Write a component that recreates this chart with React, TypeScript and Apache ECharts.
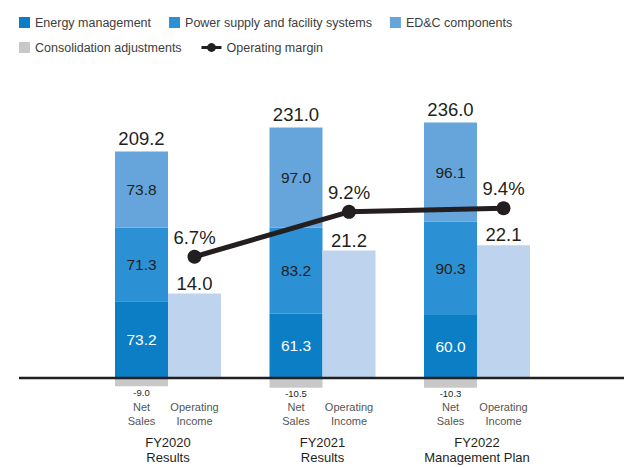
import React, { useEffect, useRef } from "react";
import * as echarts from "echarts";

const fiscalYears = ["FY2020", "FY2021", "FY2022"];
const periodLabels = ["Results", "Results", "Management Plan"];
const energyManagement = [73.2, 61.3, 60.0];
const powerSupply = [71.3, 83.2, 90.3];
const edcComponents = [73.8, 97.0, 96.1];
const consolidation = [-9.0, -10.5, -10.3];
const netSalesTotals = [209.2, 231.0, 236.0];
const operatingIncome = [14.0, 21.2, 22.1];
const operatingMargin = [6.7, 9.2, 9.4];

const SANS = "'Liberation Sans', Arial, sans-serif";
const DARK = "#231f20";

const GRID_LEFT = 90.75;
const GRID_WIDTH = 463.5;
const GRID_TOP = 67;
const GRID_HEIGHT = 310;
const BAR_WIDTH = 53;

export default function App() {
  const ref = useRef<HTMLDivElement>(null);

  useEffect(() => {
    if (!ref.current) return;
    const chart = echarts.init(ref.current, undefined, { renderer: "svg" });
    const catWidth = GRID_WIDTH / fiscalYears.length;
    const oiOffset = BAR_WIDTH / 2 / catWidth;
    const marginData = operatingMargin.map((v, i) => [i + 0.5 + oiOffset, v]);

    const legendText = { fontFamily: SANS, fontSize: 12.5, color: "#3d3d3d" };

    const option: any = {
      animation: false,
      backgroundColor: "#ffffff",
      legend: [
        {
          left: 14,
          top: 11,
          itemWidth: 11,
          itemHeight: 11,
          itemGap: 18,
          icon: "rect",
          textStyle: legendText,
          data: ["Energy management", "Power supply and facility systems", "ED&C components"],
        },
        {
          left: 14,
          top: 36,
          itemWidth: 11,
          itemHeight: 11,
          icon: "rect",
          textStyle: legendText,
          data: ["Consolidation adjustments"],
        },
        {
          left: 195,
          top: 36,
          itemWidth: 20,
          itemHeight: 11,
          textStyle: legendText,
          lineStyle: { width: 3 },
          data: ["Operating margin"],
        },
      ],
      grid: { left: GRID_LEFT, width: GRID_WIDTH, top: GRID_TOP, height: GRID_HEIGHT },
      xAxis: [
        {
          type: "category",
          data: fiscalYears,
          axisLine: { show: false },
          axisTick: { show: false },
          axisLabel: {
            margin: 23,
            interval: 0,
            formatter: (_v: string, i: number) =>
              `{a|Net}{b|Operating}\n{a|Sales}{b|Income}\n{s| }\n{g|${fiscalYears[i]}}\n{g|${periodLabels[i]}}`,
            rich: {
              a: { width: BAR_WIDTH, align: "center", fontFamily: SANS, fontSize: 11, lineHeight: 14, color: "#555555" },
              b: { width: BAR_WIDTH, align: "center", fontFamily: SANS, fontSize: 11, lineHeight: 14, color: "#555555" },
              s: { fontSize: 4, lineHeight: 6.5 },
              g: { width: 130, align: "center", fontFamily: SANS, fontSize: 13, lineHeight: 15, color: DARK },
            },
          },
        },
        { type: "value", min: 0, max: fiscalYears.length, show: false },
      ],
      yAxis: [
        { type: "value", min: 0, max: 300, show: false, splitLine: { show: false } },
        { type: "value", min: 0, max: 52, show: false, splitLine: { show: false } },
        { type: "value", min: 0, max: GRID_HEIGHT / 17.95, show: false, splitLine: { show: false } },
      ],
      series: [
        {
          name: "Energy management",
          type: "bar",
          stack: "ns",
          barWidth: BAR_WIDTH,
          barGap: "0%",
          data: energyManagement,
          itemStyle: { color: "#0b7ec5" },
          label: { show: true, position: "inside", color: "#ffffff", fontFamily: SANS, fontSize: 15.5, formatter: (p: any) => p.value.toFixed(1) },
        },
        {
          name: "Power supply and facility systems",
          type: "bar",
          stack: "ns",
          barWidth: BAR_WIDTH,
          data: powerSupply,
          itemStyle: { color: "#2c90d4" },
          label: { show: true, position: "inside", color: DARK, fontFamily: SANS, fontSize: 15.5, formatter: (p: any) => p.value.toFixed(1) },
        },
        {
          name: "ED&C components",
          type: "bar",
          stack: "ns",
          barWidth: BAR_WIDTH,
          data: edcComponents,
          itemStyle: { color: "#65a5dc" },
          label: { show: true, position: "inside", color: DARK, fontFamily: SANS, fontSize: 15.5, formatter: (p: any) => p.value.toFixed(1) },
        },
        {
          name: "Net sales total",
          type: "bar",
          stack: "ns",
          barWidth: BAR_WIDTH,
          data: netSalesTotals.map(() => 0),
          itemStyle: { color: "transparent" },
          label: {
            show: true,
            position: "top",
            distance: 3,
            color: DARK,
            fontFamily: SANS,
            fontSize: 18.5,
            formatter: (p: any) => netSalesTotals[p.dataIndex].toFixed(1),
          },
        },
        {
          name: "Consolidation adjustments",
          type: "bar",
          stack: "ns",
          barWidth: BAR_WIDTH,
          clip: false,
          data: consolidation,
          itemStyle: { color: "#c8c8c8" },
          label: { show: true, position: "bottom", distance: 1, color: DARK, fontFamily: SANS, fontSize: 9.5, formatter: (p: any) => p.value.toFixed(1) },
        },
        {
          name: "Operating income",
          type: "bar",
          yAxisIndex: 1,
          barWidth: BAR_WIDTH,
          data: operatingIncome,
          itemStyle: { color: "#bdd3ee" },
          label: { show: true, position: "top", distance: 1, color: DARK, fontFamily: SANS, fontSize: 18.5, formatter: (p: any) => p.value.toFixed(1) },
        },
        {
          name: "Operating margin",
          type: "line",
          xAxisIndex: 1,
          yAxisIndex: 2,
          data: marginData,
          symbol: "circle",
          symbolSize: 14,
          z: 5,
          lineStyle: { color: DARK, width: 5 },
          itemStyle: { color: DARK },
          label: {
            show: true,
            position: "top",
            distance: 3,
            color: DARK,
            fontFamily: SANS,
            fontSize: 18.5,
            formatter: (p: any) => p.value[1].toFixed(1) + "%",
          },
        },
      ],
      graphic: [
        {
          type: "line",
          z: 100,
          shape: { x1: 19, y1: 378, x2: 624, y2: 378 },
          style: { stroke: DARK, lineWidth: 2.5 },
        },
      ],
    };
    chart.setOption(option);
    return () => chart.dispose();
  }, []);

  return <div ref={ref} style={{ width: 624, height: 467, position: "absolute", left: 0, top: 0 }} />;
}
